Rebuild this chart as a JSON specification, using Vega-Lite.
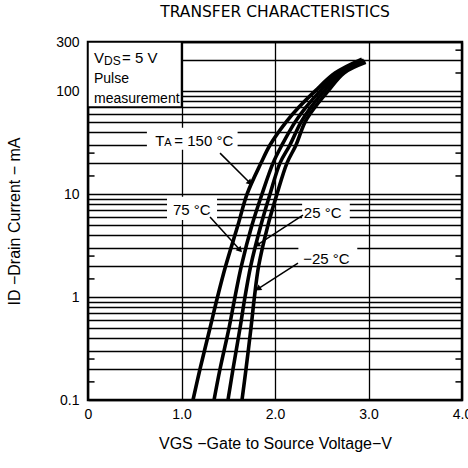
{
  "$schema": "https://vega.github.io/schema/vega-lite/v6.json",
  "width": 374,
  "height": 358,
  "autosize": {"type": "none"},
  "padding": {"left": 88, "top": 42, "right": 6, "bottom": 68},
  "background": "white",
  "title": {"text": "TRANSFER CHARACTERISTICS", "fontSize": 15.5, "font": "DejaVu Sans", "fontWeight": "normal", "color": "black", "offset": 15, "anchor": "middle"},
  "config": {"view": {"stroke": "black", "strokeWidth": 2.5}, "font": "Liberation Sans"},
  "datasets": {
    "curves": [
      {"t": "150", "vgs": 1.123, "id": 0.1}, {"t": "150", "vgs": 1.198, "id": 0.2}, {"t": "150", "vgs": 1.305, "id": 0.5}, {"t": "150", "vgs": 1.385, "id": 1}, {"t": "150", "vgs": 1.472, "id": 2}, {"t": "150", "vgs": 1.604, "id": 5}, {"t": "150", "vgs": 1.701, "id": 10}, {"t": "150", "vgs": 1.85, "id": 20}, {"t": "150", "vgs": 1.947, "id": 30}, {"t": "150", "vgs": 2.118, "id": 50}, {"t": "150", "vgs": 2.257, "id": 70}, {"t": "150", "vgs": 2.428, "id": 100}, {"t": "150", "vgs": 2.642, "id": 150}, {"t": "150", "vgs": 2.93, "id": 205},
      {"t": "75", "vgs": 1.348, "id": 0.1}, {"t": "75", "vgs": 1.412, "id": 0.2}, {"t": "75", "vgs": 1.508, "id": 0.5}, {"t": "75", "vgs": 1.572, "id": 1}, {"t": "75", "vgs": 1.64, "id": 2}, {"t": "75", "vgs": 1.754, "id": 5}, {"t": "75", "vgs": 1.861, "id": 10}, {"t": "75", "vgs": 1.979, "id": 20}, {"t": "75", "vgs": 2.075, "id": 30}, {"t": "75", "vgs": 2.214, "id": 50}, {"t": "75", "vgs": 2.332, "id": 70}, {"t": "75", "vgs": 2.481, "id": 100}, {"t": "75", "vgs": 2.674, "id": 150}, {"t": "75", "vgs": 2.95, "id": 200},
      {"t": "25", "vgs": 1.497, "id": 0.1}, {"t": "25", "vgs": 1.551, "id": 0.2}, {"t": "25", "vgs": 1.626, "id": 0.5}, {"t": "25", "vgs": 1.679, "id": 1}, {"t": "25", "vgs": 1.74, "id": 2}, {"t": "25", "vgs": 1.85, "id": 5}, {"t": "25", "vgs": 1.947, "id": 10}, {"t": "25", "vgs": 2.053, "id": 20}, {"t": "25", "vgs": 2.16, "id": 30}, {"t": "25", "vgs": 2.278, "id": 50}, {"t": "25", "vgs": 2.385, "id": 70}, {"t": "25", "vgs": 2.524, "id": 100}, {"t": "25", "vgs": 2.706, "id": 150}, {"t": "25", "vgs": 2.96, "id": 195},
      {"t": "-25", "vgs": 1.647, "id": 0.1}, {"t": "-25", "vgs": 1.69, "id": 0.2}, {"t": "-25", "vgs": 1.743, "id": 0.5}, {"t": "-25", "vgs": 1.78, "id": 1}, {"t": "-25", "vgs": 1.825, "id": 2}, {"t": "-25", "vgs": 1.925, "id": 5}, {"t": "-25", "vgs": 2.021, "id": 10}, {"t": "-25", "vgs": 2.128, "id": 20}, {"t": "-25", "vgs": 2.225, "id": 30}, {"t": "-25", "vgs": 2.321, "id": 50}, {"t": "-25", "vgs": 2.428, "id": 70}, {"t": "-25", "vgs": 2.567, "id": 100}, {"t": "-25", "vgs": 2.738, "id": 150}, {"t": "-25", "vgs": 2.97, "id": 190}
    ],
    "minor": [{"v": 0.15}, {"v": 0.25}, {"v": 1.5}, {"v": 2.5}, {"v": 15}, {"v": 25}, {"v": 150}, {"v": 250}],
    "gaps": [
      {"x": 0.63, "x2": 1.6, "y": 27, "y2": 44},
      {"x": 0.845, "x2": 1.38, "y": 5.6, "y2": 9.4},
      {"x": 2.29, "x2": 2.8, "y": 5.5, "y2": 8.4},
      {"x": 2.25, "x2": 2.88, "y": 2.05, "y2": 3.3}
    ],
    "labels": [
      {"lab": "75 °C", "x": 1.11, "y": 7.0},
      {"lab": "25 °C", "x": 2.51, "y": 6.5},
      {"lab": "−25 °C", "x": 2.55, "y": 2.34}
    ],
    "arrows": [
      {"x": 1.412, "y": 25, "x2": 1.733, "y2": 12.8, "a": 135},
      {"x": 1.305, "y": 6.0, "x2": 1.626, "y2": 2.86, "a": 138},
      {"x": 2.299, "y": 6.26, "x2": 1.807, "y2": 3.2, "a": 237},
      {"x": 2.246, "y": 2.14, "x2": 1.818, "y2": 1.2, "a": 237}
    ],
    "box": [{"lab": "Pulse", "x": 0.064, "y": 131}, {"lab": "measurement", "x": 0.064, "y": 84}]
  },
  "layer": [
    {
      "data": {"name": "curves"},
      "mark": {"type": "line", "color": "black", "strokeWidth": 3.6, "interpolate": "catmull-rom", "clip": true},
      "encoding": {
        "x": {"field": "vgs", "type": "quantitative", "scale": {"domain": [0, 4], "nice": false, "zero": false},
          "axis": {"values": [0, 1, 2, 3, 4], "grid": true, "gridColor": "black", "gridWidth": 1.3, "gridOpacity": 1, "domain": false, "ticks": false,
            "labelExpr": "datum.value == 0 ? '0' : format(datum.value, '.1f')", "labelFontSize": 14, "labelColor": "black", "labelPadding": 7, "labelFlush": false,
            "title": "VGS −Gate to Source Voltage−V", "titleFontSize": 16, "titleFontWeight": "normal", "titleColor": "black", "titlePadding": 14}},
        "y": {"field": "id", "type": "quantitative", "scale": {"type": "log", "domain": [0.1, 300], "nice": false},
          "axis": {"values": [0.1, 0.2, 0.3, 0.4, 0.5, 0.6, 0.7, 0.8, 0.9, 1, 2, 3, 4, 5, 6, 7, 8, 9, 10, 20, 30, 40, 50, 60, 70, 80, 90, 100, 200, 300],
            "grid": true, "gridColor": "black", "gridWidth": 1.3, "gridOpacity": 1, "domain": false, "ticks": false, "format": "~g",
            "labelExpr": "indexof([0.1, 1, 10, 100, 300], datum.value) >= 0 ? datum.label : ''", "labelFontSize": 14, "labelColor": "black", "labelPadding": 9, "labelFlush": false,
            "title": "ID −Drain Current − mA", "titleFontSize": 16, "titleFontWeight": "normal", "titleColor": "black", "titlePadding": 33}},
        "detail": {"field": "t"}
      }
    },
    {
      "data": {"name": "minor"},
      "mark": {"type": "rule", "color": "black", "strokeWidth": 1.5},
      "encoding": {"x": {"datum": 0}, "x2": {"datum": 0.07}, "y": {"field": "v", "type": "quantitative"}}
    },
    {
      "data": {"name": "minor"},
      "mark": {"type": "rule", "color": "black", "strokeWidth": 1.5},
      "encoding": {"x": {"datum": 3.93}, "x2": {"datum": 4}, "y": {"field": "v", "type": "quantitative"}}
    },
    {
      "data": {"name": "gaps"},
      "mark": {"type": "rect", "fill": "white", "stroke": null},
      "encoding": {"x": {"field": "x", "type": "quantitative"}, "x2": {"field": "x2"}, "y": {"field": "y", "type": "quantitative"}, "y2": {"field": "y2"}}
    },
    {
      "data": {"values": [{"k": 1}]},
      "mark": {"type": "rect", "fill": "white", "stroke": "black", "strokeWidth": 1.5},
      "encoding": {"x": {"datum": 0}, "x2": {"datum": 1}, "y": {"datum": 70}, "y2": {"datum": 300}}
    },
    {
      "data": {"name": "box"},
      "mark": {"type": "text", "align": "left", "baseline": "middle", "fontSize": 14, "color": "black"},
      "encoding": {"x": {"field": "x", "type": "quantitative"}, "y": {"field": "y", "type": "quantitative"}, "text": {"field": "lab"}}
    },
    {
      "data": {"values": [{"s": "V"}]},
      "mark": {"type": "text", "align": "left", "baseline": "middle", "fontSize": 15, "color": "black"},
      "encoding": {"x": {"datum": 0.064}, "y": {"datum": 209}, "text": {"field": "s"}}
    },
    {
      "data": {"values": [{"s": "DS"}]},
      "mark": {"type": "text", "align": "left", "baseline": "middle", "fontSize": 12, "color": "black", "dx": 10, "dy": 3},
      "encoding": {"x": {"datum": 0.064}, "y": {"datum": 209}, "text": {"field": "s"}}
    },
    {
      "data": {"values": [{"s": "= 5 V"}]},
      "mark": {"type": "text", "align": "left", "baseline": "middle", "fontSize": 15, "color": "black", "dx": 28},
      "encoding": {"x": {"datum": 0.064}, "y": {"datum": 209}, "text": {"field": "s"}}
    },
    {
      "data": {"values": [{"s": "T"}]},
      "mark": {"type": "text", "align": "left", "baseline": "middle", "fontSize": 15, "color": "black"},
      "encoding": {"x": {"datum": 0.72}, "y": {"datum": 33}, "text": {"field": "s"}}
    },
    {
      "data": {"values": [{"s": "A"}]},
      "mark": {"type": "text", "align": "left", "baseline": "middle", "fontSize": 11, "color": "black", "dx": 9, "dy": 2},
      "encoding": {"x": {"datum": 0.72}, "y": {"datum": 33}, "text": {"field": "s"}}
    },
    {
      "data": {"values": [{"s": "= 150 °C"}]},
      "mark": {"type": "text", "align": "left", "baseline": "middle", "fontSize": 15, "color": "black", "dx": 19},
      "encoding": {"x": {"datum": 0.72}, "y": {"datum": 33}, "text": {"field": "s"}}
    },
    {
      "data": {"name": "labels"},
      "mark": {"type": "text", "align": "center", "baseline": "middle", "fontSize": 15, "color": "black"},
      "encoding": {"x": {"field": "x", "type": "quantitative"}, "y": {"field": "y", "type": "quantitative"}, "text": {"field": "lab"}}
    },
    {
      "data": {"name": "arrows"},
      "mark": {"type": "rule", "color": "black", "strokeWidth": 1.5},
      "encoding": {"x": {"field": "x", "type": "quantitative"}, "y": {"field": "y", "type": "quantitative"}, "x2": {"field": "x2"}, "y2": {"field": "y2"}}
    },
    {
      "data": {"name": "arrows"},
      "mark": {"type": "point", "shape": "triangle-up", "filled": true, "color": "black", "size": 45, "opacity": 1},
      "encoding": {"x": {"field": "x2", "type": "quantitative"}, "y": {"field": "y2", "type": "quantitative"}, "angle": {"field": "a", "type": "quantitative", "scale": null}}
    }
  ]
}
